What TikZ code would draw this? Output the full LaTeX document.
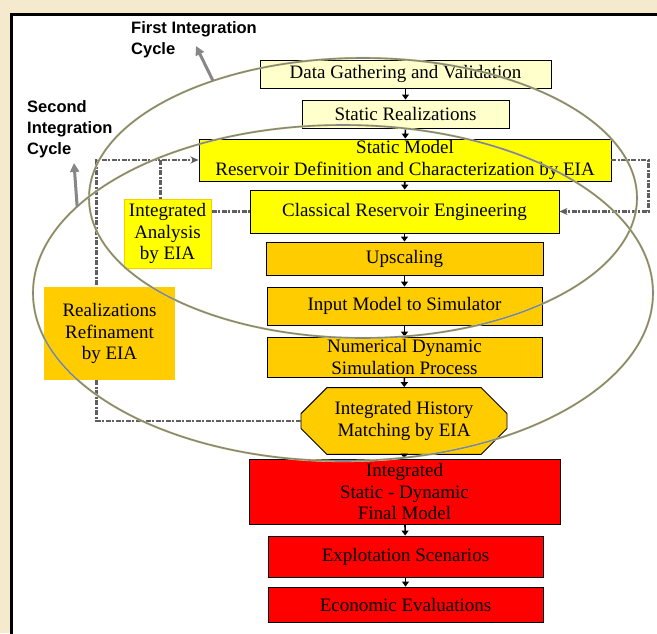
\documentclass[tikz,border=0pt]{standalone}
\usepackage{fontspec}
\setmainfont{Liberation Serif}
\setsansfont{Liberation Sans}
\usetikzlibrary{positioning,arrows.meta,shapes.geometric,shapes.misc}
\definecolor{paleyellow}{RGB}{255,255,204}
\definecolor{brightyellow}{RGB}{255,255,0}
\definecolor{ambergold}{RGB}{255,204,0}
\definecolor{finalred}{RGB}{255,0,0}
\definecolor{parchment}{RGB}{245,234,205}
\definecolor{cyclegray}{RGB}{135,135,135}
\definecolor{cycleedge}{RGB}{230,230,110}
\definecolor{loopgray}{RGB}{95,95,95}

\begin{document}
\begin{tikzpicture}[x=1pt,y=-1pt,
    every node/.style={font=\fontsize{19}{21.5}\selectfont},
    box/.style={draw=black,line width=0.9pt,align=center,inner sep=0pt},
    stagebox/.style={box,fill=paleyellow},
    modelbox/.style={box,fill=brightyellow},
    simbox/.style={box,fill=ambergold},
    finalbox/.style={box,fill=finalred},
    flow/.style={-{Triangle[length=5pt,width=7pt]},line width=1.6pt,black},
    loopline/.style={loopgray,line width=2.5pt,dash pattern=on 5pt off 1.5pt on 2pt off 1.5pt},
    looptip/.style={-{Stealth[length=8pt,width=7pt]}},
    cycleloop/.style={ellipse,draw=cyclegray,line width=1.6pt,inner sep=0pt,outer sep=0pt,preaction={draw=cycleedge,line width=2.2pt}},
    cyclelabel/.style={font=\fontsize{16.5}{21}\selectfont\sffamily\bfseries,align=left,inner sep=0pt,anchor=north west},
    cyclearrow/.style={-{Triangle[length=9pt,width=9pt]},cyclegray,line width=3pt}]
    \useasboundingbox (0,0) rectangle (657,633);
    \fill[parchment] (0,0) rectangle (657,633);
    \filldraw[fill=white,draw=black,line width=3pt] (11,14) rectangle (680,660);

    \node[stagebox,minimum width=291pt,minimum height=28pt] (data) at (405.5,74) {Data Gathering and Validation};
    \node[stagebox,minimum width=207pt,minimum height=28pt] (real) at (405.5,114) {Static Realizations};
    \node[modelbox,minimum width=412pt,minimum height=42pt] (static) at (405,160) {Static Model\\Reservoir Definition and Characterization by EIA};
    \node[modelbox,minimum width=309pt,minimum height=43pt] (classic) at (404.5,211.5) {Classical Reservoir Engineering};
    \node[simbox,minimum width=277pt,minimum height=33pt] (upscale) at (404.5,258.5) {Upscaling};
    \node[simbox,minimum width=275pt,minimum height=38pt] (input) at (404.5,306) {Input Model to Simulator};
    \node[simbox,minimum width=275pt,minimum height=40pt] (numsim) at (404.5,357) {Numerical Dynamic\\Simulation Process};
    \node[simbox,chamfered rectangle,chamfered rectangle xsep=12pt,chamfered rectangle ysep=14pt,minimum width=206pt,minimum height=54pt] (history) at (404,421) {Integrated History\\Matching by EIA};
    \node[finalbox,minimum width=311pt,minimum height=65pt] (final) at (404.5,491.5) {Integrated\\Static - Dynamic\\Final Model};
    \node[finalbox,minimum width=275pt,minimum height=41pt] (scen) at (405.5,556.5) {Explotation Scenarios};
    \node[finalbox,minimum width=275pt,minimum height=35pt] (econ) at (405.5,604.5) {Economic Evaluations};

    \foreach \from/\to in {data/real,real/static,static/classic,classic/upscale,upscale/input,input/numsim,numsim/history,history/final,final/scen,scen/econ}
      \draw[flow] (\from) -- (\to);

    \node[fill=brightyellow,draw=ambergold,line width=1pt,align=center,inner sep=0pt,minimum width=87pt,minimum height=69pt] (analysis) at (167.5,233.5) {Integrated\\Analysis\\by EIA};

    \draw[loopline,looptip] (history.west) -- ++(-204,0) |- (static.west);
    \draw[loopline] ([xshift=-7pt]analysis.north |- static.west) -- ([xshift=-7pt]analysis.north);
    \draw[loopline] (analysis.east |- classic.west) -- (classic.west);
    \draw[loopline,looptip] (static.east) -- ++(37,0) |- (classic.east);

    \node[fill=ambergold,align=center,inner sep=0pt,minimum width=131pt,minimum height=93pt] (refine) at (109.5,333.5) {Realizations\\Refinament\\by EIA};

    \node[cycleloop,minimum width=548pt,minimum height=280pt] (firstcycle) at (363,198) {};
    \node[cycleloop,minimum width=620pt,minimum height=336pt] (secondcycle) at (343,293) {};

    \node[cyclelabel] (firstlabel) at (131,21) {First Integration\\Cycle};
    \node[cyclelabel] (secondlabel) at (27,100) {Second\\Integration\\Cycle};
    \coordinate (firsttip) at (196,46);
    \coordinate (secondtip) at (74,163);
    \draw[cyclearrow] (firstcycle.142.7) -- (firsttip);
    \draw[cyclearrow] (secondcycle.162.9) -- (secondtip);
  \end{tikzpicture}
\end{document}
